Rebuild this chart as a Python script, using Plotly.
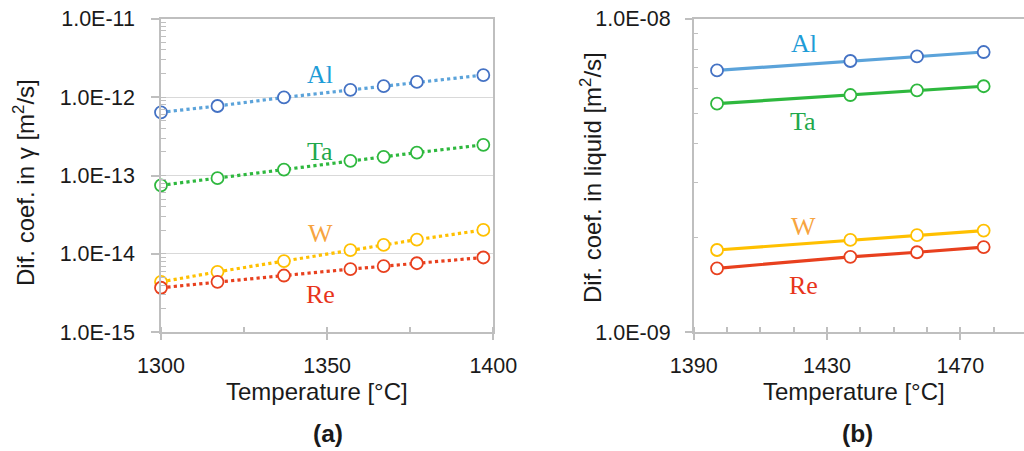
import plotly.graph_objects as go

W, H = 1024, 451

# ---------- data ----------
temp_gamma = [1300, 1317, 1337, 1357, 1367, 1377, 1397]
al_gamma = [6.4e-13, 7.7e-13, 9.9e-13, 1.24e-12, 1.38e-12, 1.56e-12, 1.91e-12]
ta_gamma = [7.5e-14, 9.25e-14, 1.19e-13, 1.54e-13, 1.73e-13, 1.96e-13, 2.46e-13]
w_gamma = [4.4e-15, 5.9e-15, 8.1e-15, 1.12e-14, 1.30e-14, 1.52e-14, 2.02e-14]
re_gamma = [3.7e-15, 4.4e-15, 5.3e-15, 6.4e-15, 7.0e-15, 7.6e-15, 9.0e-15]

temp_liq = [1397, 1437, 1457, 1477]
al_liq = [6.84e-9, 7.33e-9, 7.58e-9, 7.83e-9]
ta_liq = [5.36e-9, 5.71e-9, 5.91e-9, 6.09e-9]
w_liq = [1.83e-9, 1.97e-9, 2.04e-9, 2.11e-9]
re_liq = [1.60e-9, 1.74e-9, 1.80e-9, 1.87e-9]

elements = ["Al", "Ta", "W", "Re"]
line_colors = ["#5BA3DA", "#2EB83E", "#FFC000", "#E8401E"]
marker_colors = ["#4472C4", "#2EB83E", "#FFC000", "#E8401E"]
label_colors = ["#1E9CD7", "#1FA84C", "#F7A440", "#E8341C"]

gamma_tickvals = [1e-15, 1e-14, 1e-13, 1e-12, 1e-11]
gamma_ticktext = ["1.0E-15", "1.0E-14", "1.0E-13", "1.0E-12", "1.0E-11"]
liq_tickvals = [1e-9, 1e-8]
liq_ticktext = ["1.0E-09", "1.0E-08"]

# ---------- figure ----------
fig = go.Figure()

gamma_series = [al_gamma, ta_gamma, w_gamma, re_gamma]
liq_series = [al_liq, ta_liq, w_liq, re_liq]

for name, ys, lc, mc in zip(elements, gamma_series, line_colors, marker_colors):
    fig.add_trace(go.Scatter(
        x=temp_gamma, y=ys, mode="lines+markers", name=name,
        line=dict(color=lc, width=3.2, dash="dot"),
        marker=dict(symbol="circle", size=12, color="white",
                    line=dict(color=mc, width=1.8)),
        xaxis="x", yaxis="y", cliponaxis=False, showlegend=False))

for name, ys, lc, mc in zip(elements, liq_series, line_colors, marker_colors):
    fig.add_trace(go.Scatter(
        x=temp_liq, y=ys, mode="lines+markers", name=name,
        line=dict(color=lc, width=3.2),
        marker=dict(symbol="circle", size=12, color="white",
                    line=dict(color=mc, width=1.8)),
        xaxis="x2", yaxis="y2", cliponaxis=False, showlegend=False))

axis_color = "#BFBFBF"
tick_font = dict(family="Liberation Sans, Arial, sans-serif", size=21.5, color="#1a1a1a")

y_dom = [1 - 332.3 / H, 1 - 18.7 / H]

fig.update_layout(
    width=W, height=H,
    margin=dict(l=0, r=0, t=0, b=0, autoexpand=False),
    paper_bgcolor="white", plot_bgcolor="white",
    xaxis=dict(
        domain=[161 / W, 493.3 / W], range=[1300, 1400], automargin=False,
        tickmode="linear", tick0=1300, dtick=50,
        showline=True, linecolor=axis_color, linewidth=1.5, mirror=True,
        showgrid=False, zeroline=False,
        ticks="outside", ticklen=6, tickcolor=axis_color, tickwidth=1.5,
        minor=dict(dtick=25, tick0=1300, ticks="inside", ticklen=6,
                   tickcolor=axis_color, tickwidth=1.5, showgrid=False),
        tickfont=tick_font, ticklabelstandoff=7,
    ),
    yaxis=dict(
        domain=y_dom, type="log", range=[-15, -11], automargin=False,
        tickmode="array", tickvals=gamma_tickvals, ticktext=gamma_ticktext,
        showline=True, linecolor=axis_color, linewidth=1.5, mirror=True,
        showgrid=True, gridcolor="#D9D9D9", gridwidth=1.2, zeroline=False,
        ticks="outside", ticklen=8, tickcolor=axis_color, tickwidth=1.5,
        minor=dict(dtick="D1", ticks="inside", ticklen=5,
                   tickcolor=axis_color, tickwidth=1.2, showgrid=False),
        tickfont=tick_font, ticklabelstandoff=12,
    ),
    xaxis2=dict(
        domain=[693.7 / W, 1.0], range=[1390, 1390 + (W - 693.7) / 3.333],
        anchor="y2", automargin=False,
        tickmode="linear", tick0=1390, dtick=40,
        showline=True, linecolor=axis_color, linewidth=1.5, mirror=True,
        showgrid=False, zeroline=False,
        ticks="outside", ticklen=6, tickcolor=axis_color, tickwidth=1.5,
        minor=dict(dtick=10, tick0=1390, ticks="inside", ticklen=6,
                   tickcolor=axis_color, tickwidth=1.5, showgrid=False),
        tickfont=tick_font, ticklabelstandoff=7,
    ),
    yaxis2=dict(
        domain=y_dom, type="log", range=[-9, -8], anchor="x2", automargin=False,
        tickmode="array", tickvals=liq_tickvals, ticktext=liq_ticktext,
        showline=True, linecolor=axis_color, linewidth=1.5, mirror=False,
        showgrid=False, zeroline=False,
        ticks="outside", ticklen=7, tickcolor=axis_color, tickwidth=1.5,
        minor=dict(dtick="D1", ticks="inside", ticklen=5,
                   tickcolor=axis_color, tickwidth=1.2, showgrid=False),
        tickfont=tick_font, ticklabelstandoff=10,
    ),
)

title_font = dict(family="Liberation Sans, Arial, sans-serif", size=24, color="#1a1a1a")
bold_font = dict(family="Liberation Sans, Arial, sans-serif", size=24.5, color="#1a1a1a")
serif = "Liberation Serif, Times New Roman, serif"


def P(px, py):
    return px / W, 1 - py / H


annots = []


def add_text(text, px, py, font, angle=0):
    x, y = P(px, py)
    annots.append(dict(text=text, x=x, y=y, xref="paper", yref="paper",
                       xanchor="center", yanchor="middle", showarrow=False,
                       font=font, textangle=angle))


add_text("Temperature [°C]", 317, 391.5, title_font)
add_text("Temperature [°C]", 854, 391.5, title_font)
add_text("<b>(a)</b>", 328, 433, bold_font)
add_text("<b>(b)</b>", 857, 433, bold_font)
add_text("Dif. coef. in γ [m<sup>2</sup>/s]", 24, 183, title_font, -90)
add_text("Dif. coef. in liquid [m<sup>2</sup>/s]", 591, 178, title_font, -90)

left_label_pos = [(320, 74), (320, 151.5), (320, 234), (320, 294)]
right_label_pos = [(803.5, 43), (803, 121.5), (803, 226.5), (803.5, 285)]
for name, col, (lx, ly) in zip(elements, label_colors, left_label_pos):
    add_text(name, lx, ly, dict(family=serif, size=26, color=col))
for name, col, (lx, ly) in zip(elements, label_colors, right_label_pos):
    add_text(name, lx, ly, dict(family=serif, size=26, color=col))

fig.update_layout(annotations=annots)

fig.write_html("out.html")
